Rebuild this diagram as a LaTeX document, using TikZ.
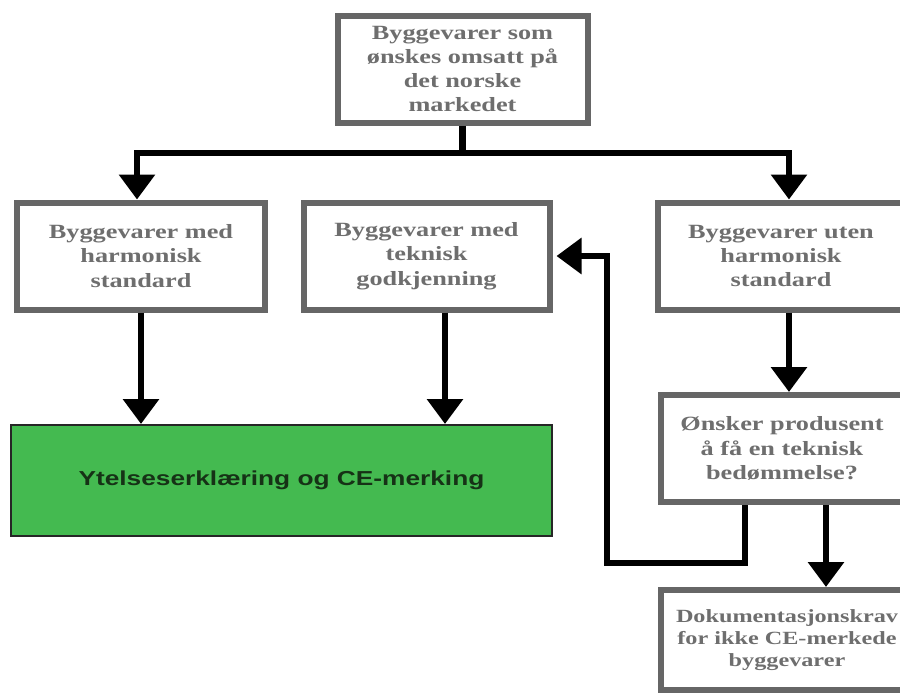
\documentclass[tikz,border=0pt]{standalone}
\usepackage{fontspec}
\usepackage{xcolor}
\usetikzlibrary{arrows.meta,positioning,calc}
\newfontfamily\boksfont[FakeStretch=1.3]{Liberation Serif}
\newfontfamily\gronnfont[FakeStretch=1.3]{Liberation Sans}
\definecolor{boksgraa}{HTML}{666666}
\definecolor{tekstgraa}{HTML}{6E6E6E}
\definecolor{gronn}{RGB}{68,186,80}
\definecolor{gronntekst}{RGB}{22,50,22}

\begin{document}
\begin{tikzpicture}[x=0.2mm, y=-0.2mm,
    boks/.style={draw=boksgraa, line width=1.2mm, fill=white, align=center, inner sep=0pt,
        text=tekstgraa, font=\boksfont\bfseries\fontsize{11.5}{13.8}\selectfont},
    linje/.style={line width=1.3mm},
    pil/.style={linje, -{Triangle[length=5mm, width=7mm]}},
    pil2/.style={linje, {Triangle[length=5mm, width=7mm]}-{Triangle[length=5mm, width=7mm]}}]
        \useasboundingbox (0,0) rectangle (900,695);
        \clip (0,0) rectangle (900,695);

        \node [boks, minimum width=50mm, minimum height=21.4mm] (topp) at (462.5,69)
            {Byggevarer som\\ønskes omsatt på\\det norske\\markedet};
        \node [boks, minimum width=49.4mm, minimum height=21.4mm] (harm) at (141,256)
            {Byggevarer med\\harmonisk\\standard};
        \node [boks, minimum width=49.2mm, minimum height=21.4mm] (tek) at (426.5,256)
            {Byggevarer med\\teknisk\\godkjenning};
        \node [boks, minimum width=49.2mm, minimum height=21.4mm] (uten) at (781,256)
            {Byggevarer uten\\harmonisk\\standard};
        \node [boks, minimum width=48.4mm, minimum height=21.4mm] (onsker) at (782,448.5)
            {Ønsker produsent\\å få en teknisk\\bedømmelse?};
        \node [boks, minimum width=50.4mm, minimum height=20mm,
            font=\boksfont\bfseries\fontsize{10.6}{12.4}\selectfont] (dok) at (787,640)
            {Dokumentasjonskrav\\for ikke CE-merkede\\byggevarer};

        % CE-merking
        \node [draw=black!85, line width=0.4mm, fill=gronn, minimum width=108.2mm, minimum height=22.2mm,
            text=gronntekst, font=\gronnfont\bfseries\fontsize{11.5}{13.8}\selectfont] (ce) at (281.5,480.5)
            {Ytelseserklæring og CE-merking};

        % fra toppen
        \coordinate (delv) at (137,153);
        \coordinate (delh) at (789,153);
        \draw [linje] (topp.south) -- (topp.south |- delv);
        \draw [pil2] (delv |- harm.north) -- (delv) -- (delh) -- (delh |- uten.north);

        \draw [pil] (harm.south) -- (harm.south |- ce.north);
        \draw [pil] ([xshift=3.7mm]tek.south) -- ([xshift=3.7mm]tek.south |- ce.north);
        \draw [pil] ([xshift=1.6mm]uten.south) -- ([xshift=1.6mm]uten.south |- onsker.north);
        \draw [pil] ([xshift=8.8mm]onsker.south) -- ([xshift=8.8mm]onsker.south |- dok.north);

        % tilbake til teknisk godkjenning
        \coordinate (sving) at (607,563);
        \draw [pil, shorten >=0.8mm] ([xshift=-7.4mm]onsker.south) |- (sving) |- (tek.east);
    \end{tikzpicture}
\end{document}
